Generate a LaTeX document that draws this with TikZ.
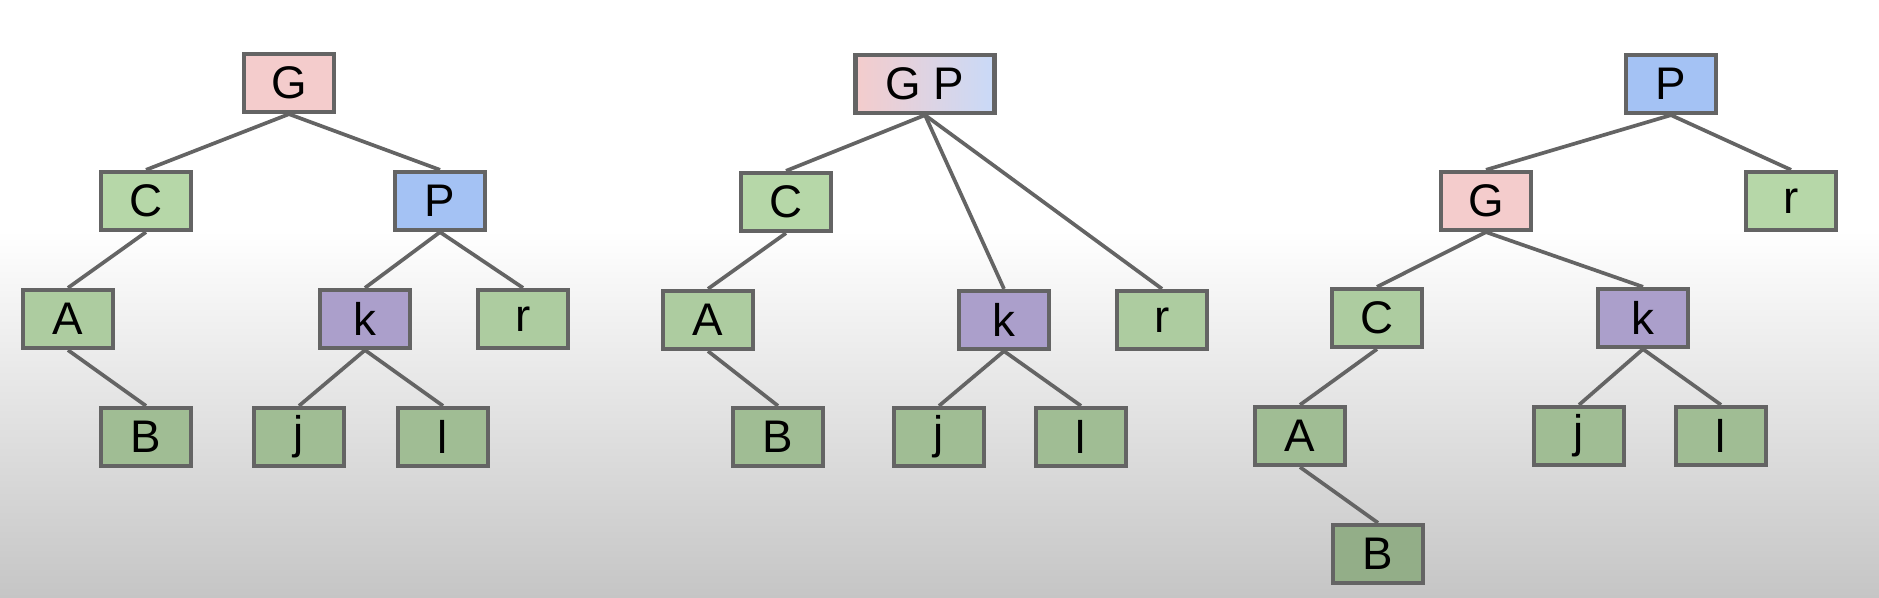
\documentclass[tikz,border=0pt]{standalone}
\usepackage{fontspec}
\setmainfont{Liberation Sans}
\usetikzlibrary{shadings}
\definecolor{gfill}{HTML}{F4CCCC}
\definecolor{pfill}{HTML}{A4C2F4}
\definecolor{gpright}{HTML}{C9DAF8}
\definecolor{leaffill}{HTML}{B6D7A8}
\definecolor{kfill}{HTML}{B4A7D6}
\definecolor{linegray}{HTML}{646464}
\definecolor{bgbottom}{HTML}{C5C5C5}
\tikzset{
	tnode/.style={draw=linegray, line width=1.2pt, inner sep=0pt, minimum width=0.9cm, minimum height=0.58cm, font=\fontsize{13}{15}\selectfont},
	gnode/.style={tnode, fill=gfill!#1!black}, gnode/.default=100,
	pnode/.style={tnode, fill=pfill!#1!black}, pnode/.default=100,
	leaf/.style={tnode, fill=leaffill!#1!black}, leaf/.default=100,
	knode/.style={tnode, fill=kfill!#1!black}, knode/.default=100,
	edge/.style={linegray, line width=1.05pt}
}
\begin{document}
\begin{tikzpicture}[x=0.01cm, y=-0.01cm]
	\useasboundingbox (0,0) rectangle (1879,598);
	% background
	\fill [white] (0,0) rectangle (1879,231);
	\shade [top color=white, bottom color=bgbottom] (0,230) rectangle (1879,598);
	
	% tree 1
	\node [gnode] (g1) at (289,83) {G};
	\node [leaf] (c1) at (146,201) {C};
	\node [pnode] (p1) at (440,201) {P};
	\node [leaf=95] (a1) at (68,319) {A};
	\node [knode=95] (k1) at (365,319) {k};
	\node [leaf=95] (r1) at (523,319) {r};
	\node [leaf=88] (b1) at (146,437) {B};
	\node [leaf=88] (j1) at (299,437) {j};
	\node [leaf=88] (l1) at (443,437) {l};
	
	% tree 2
	\node [tnode, minimum width=1.39cm, left color=gfill, right color=gpright] (gp2) at (925,84) {G P};
	\node [leaf] (c2) at (786,202) {C};
	\node [leaf=95] (a2) at (708,320) {A};
	\node [knode=95] (k2) at (1004,320) {k};
	\node [leaf=95] (r2) at (1162,320) {r};
	\node [leaf=88] (b2) at (778,437) {B};
	\node [leaf=88] (j2) at (939,437) {j};
	\node [leaf=88] (l2) at (1081,437) {l};
	
	% tree 3
	\node [pnode] (p3) at (1671,84) {P};
	\node [gnode] (g3) at (1486,201) {G};
	\node [leaf] (r3) at (1791,201) {r};
	\node [leaf=95] (c3) at (1377,318) {C};
	\node [knode=95] (k3) at (1643,318) {k};
	\node [leaf=88] (a3) at (1300,436) {A};
	\node [leaf=88] (j3) at (1579,436) {j};
	\node [leaf=88] (l3) at (1721,436) {l};
	\node [leaf=81] (b3) at (1378,554) {B};
	
	% edges
	\foreach \a/\b in {g1/c1, g1/p1, c1/a1, a1/b1, p1/k1, p1/r1, k1/j1, k1/l1,
		gp2/c2, gp2/k2, gp2/r2, c2/a2, a2/b2, k2/j2, k2/l2,
		p3/g3, p3/r3, g3/c3, g3/k3, c3/a3, a3/b3, k3/j3, k3/l3} {
		\draw [edge] (\a.south) -- (\b.north);
	}
\end{tikzpicture}
\end{document}
